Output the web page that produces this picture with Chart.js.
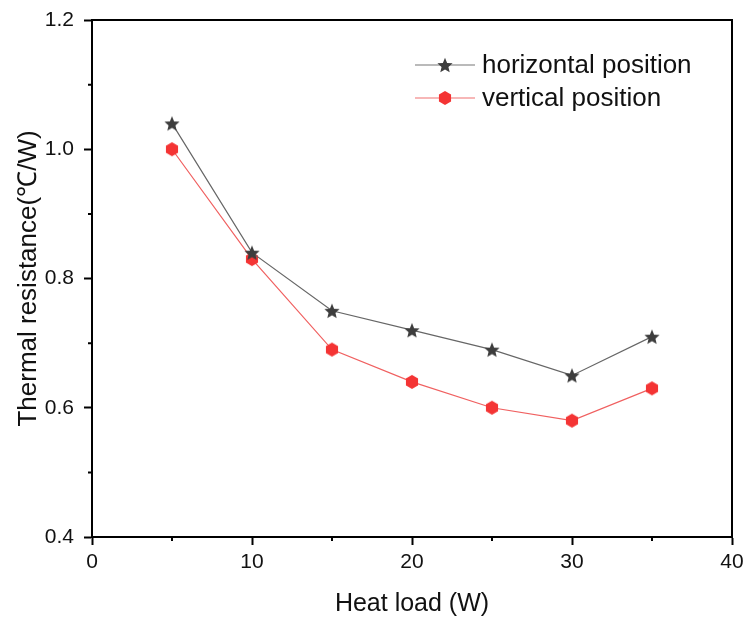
<!DOCTYPE html>
<html>
<head>
<meta charset="utf-8">
<script src="https://cdn.jsdelivr.net/npm/chart.js@4"></script>
<style>
	html, body { margin: 0; padding: 0; background: #fff; }
	canvas { display: block; }
</style>
</head>
<body>
<canvas id="chart" width="748" height="623"></canvas>
<script>
const heatLoad = [5, 10, 15, 20, 25, 30, 35];
const horizontalPos = [1.04, 0.84, 0.75, 0.72, 0.69, 0.65, 0.71];
const verticalPos = [1.00, 0.83, 0.69, 0.64, 0.60, 0.58, 0.63];
const xTicks = [0, 10, 20, 30, 40];
const yTicks = [0.4, 0.6, 0.8, 1.0, 1.2];
const seriesNames = ['horizontal position', 'vertical position'];

const FONT = 'Liberation Sans, Arial, sans-serif';

function makeStar(r, color) {
	const c = document.createElement('canvas');
	c.width = c.height = Math.ceil(r * 2 + 2);
	const g = c.getContext('2d');
	const cx = c.width / 2, cy = c.height / 2 + r * 0.1;
	g.beginPath();
	for (let i = 0; i < 10; i++) {
		const rad = i % 2 === 0 ? r : r * 0.45;
		const a = -Math.PI / 2 + i * Math.PI / 5;
		g.lineTo(cx + rad * Math.cos(a), cy + rad * Math.sin(a));
	}
	g.closePath();
	g.fillStyle = color;
	g.fill();
	return c;
}

function makeHex(r, color) {
	const c = document.createElement('canvas');
	c.width = c.height = Math.ceil(r * 2 + 2);
	const g = c.getContext('2d');
	const cx = c.width / 2, cy = c.height / 2;
	g.beginPath();
	for (let i = 0; i < 6; i++) {
		const a = Math.PI / 6 + i * Math.PI / 3;
		g.lineTo(cx + r * Math.cos(a), cy + r * Math.sin(a));
	}
	g.closePath();
	g.fillStyle = color;
	g.fill();
	return c;
}

const starImg = makeStar(8, '#3d3d3d');
const hexImg = makeHex(7, '#f43434');

// frame, minor ticks and the in-plot legend
const decorations = {
	id: 'decorations',
	afterDraw(chart) {
		const { ctx, chartArea: a, scales } = chart;
		ctx.save();
		ctx.strokeStyle = '#000';
		ctx.lineWidth = 2;
		ctx.strokeRect(a.left, a.top, a.right - a.left, a.bottom - a.top);

		ctx.beginPath();
		for (let i = 0; i < xTicks.length - 1; i++) {
			const px = scales.x.getPixelForValue((xTicks[i] + xTicks[i + 1]) / 2);
			ctx.moveTo(px, a.bottom);
			ctx.lineTo(px, a.bottom + 4);
		}
		for (let i = 0; i < yTicks.length - 1; i++) {
			const py = scales.y.getPixelForValue((yTicks[i] + yTicks[i + 1]) / 2);
			ctx.moveTo(a.left, py);
			ctx.lineTo(a.left - 4, py);
		}
		ctx.stroke();

		const rows = [
			{ name: seriesNames[0], line: '#777', img: starImg, y: 65 },
			{ name: seriesNames[1], line: '#f07070', img: hexImg, y: 98 }
		];
		ctx.font = '26px ' + FONT;
		ctx.textBaseline = 'middle';
		ctx.fillStyle = '#111';
		rows.forEach(r => {
			ctx.strokeStyle = r.line;
			ctx.lineWidth = 1.2;
			ctx.beginPath();
			ctx.moveTo(415, r.y);
			ctx.lineTo(475, r.y);
			ctx.stroke();
			ctx.drawImage(r.img, 445 - r.img.width / 2, r.y - r.img.height / 2);
			ctx.fillText(r.name, 482, r.y + 1);
		});
		ctx.restore();
	}
};

new Chart(document.getElementById('chart'), {
	type: 'line',
	data: {
		datasets: [{
			label: seriesNames[0],
			data: heatLoad.map((x, i) => ({ x, y: horizontalPos[i] })),
			borderColor: '#666',
			borderWidth: 1.2,
			pointStyle: starImg,
			tension: 0
		}, {
			label: seriesNames[1],
			data: heatLoad.map((x, i) => ({ x, y: verticalPos[i] })),
			borderColor: '#f06060',
			borderWidth: 1.2,
			pointStyle: hexImg,
			tension: 0
		}]
	},
	options: {
		responsive: false,
		animation: false,
		layout: { padding: { top: 20, right: 16, left: 0, bottom: 0 } },
		plugins: {
			legend: { display: false },
			tooltip: { enabled: false }
		},
		scales: {
			x: {
				type: 'linear',
				min: 0,
				max: 40,
				afterBuildTicks: s => { s.ticks = xTicks.map(v => ({ value: v })); },
				afterFit: s => { s.height = 86; s.paddingLeft = 0; s.paddingRight = 0; },
				grid: { drawOnChartArea: false, tickLength: 8, tickWidth: 2, tickColor: '#000' },
				border: { color: '#000', width: 2 },
				ticks: {
					color: '#111',
					font: { family: FONT, size: 21 },
					padding: 5,
					maxRotation: 0,
					callback: v => v
				},
				title: {
					display: true,
					text: 'Heat load (W)',
					color: '#111',
					font: { family: FONT, size: 25 },
					padding: { top: 10 }
				}
			},
			y: {
				min: 0.4,
				max: 1.2,
				afterBuildTicks: s => { s.ticks = yTicks.map(v => ({ value: v })); },
				afterFit: s => { s.width = 92; s.paddingTop = 0; s.paddingBottom = 0; },
				grid: { drawOnChartArea: false, tickLength: 8, tickWidth: 2, tickColor: '#000' },
				border: { color: '#000', width: 2 },
				ticks: {
					color: '#111',
					font: { family: FONT, size: 21 },
					padding: 10,
					callback: v => v.toFixed(1)
				},
				title: {
					display: true,
					text: 'Thermal resistance(℃/W)',
					color: '#111',
					font: { family: FONT, size: 26 },
					padding: { top: 13, bottom: 0 }
				}
			}
		}
	},
	plugins: [decorations]
});
</script>
</body>
</html>
